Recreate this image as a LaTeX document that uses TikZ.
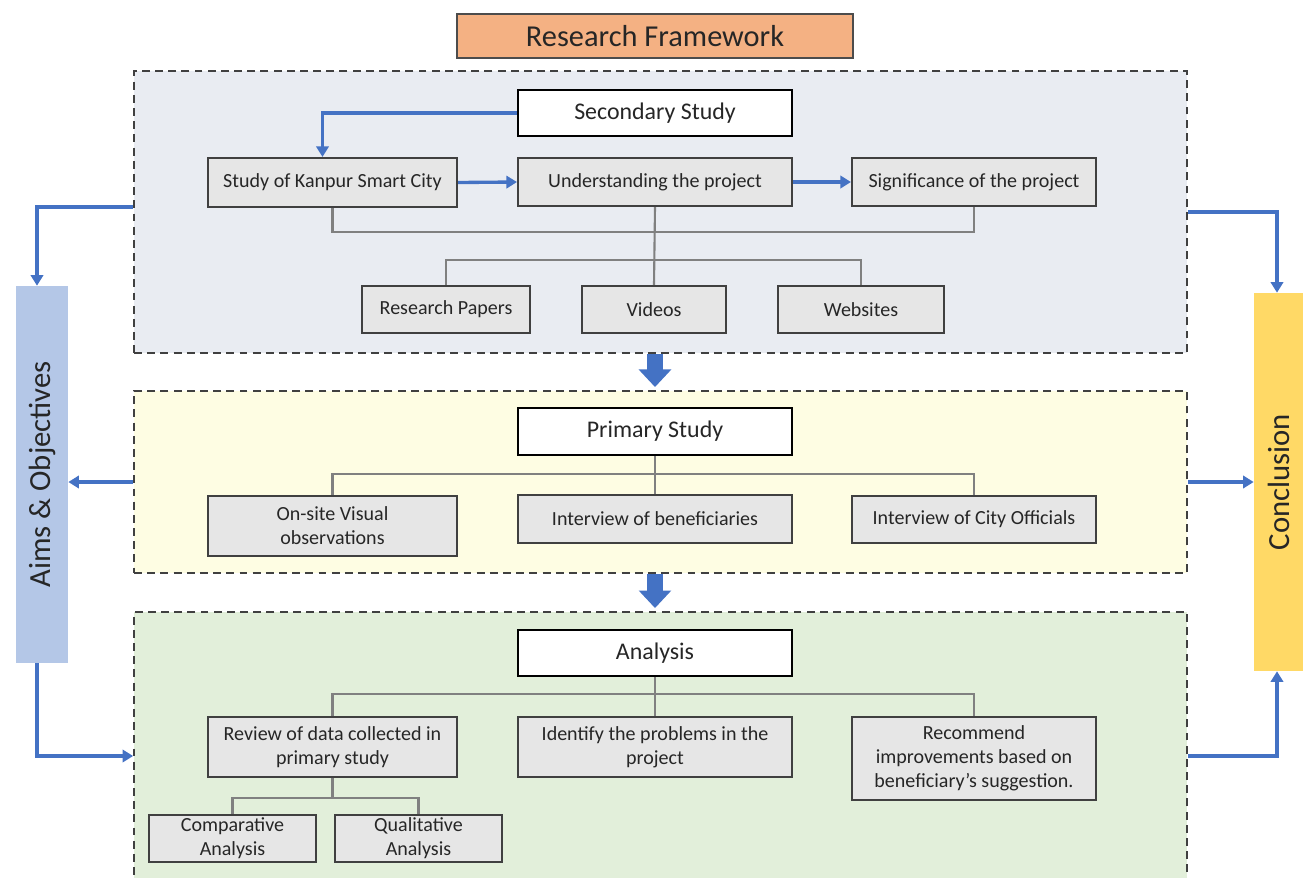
\documentclass[tikz,border=0pt]{standalone}
\usepackage{fontspec}
\setmainfont{Carlito}
\usetikzlibrary{arrows.meta}
\definecolor{bluel}{HTML}{4472C4}
\definecolor{secfill}{HTML}{E9ECF2}
\definecolor{prifill}{HTML}{FEFDE3}
\definecolor{anafill}{HTML}{E2EFDA}
\definecolor{boxfill}{HTML}{E6E6E6}
\definecolor{titlefill}{HTML}{F4B183}
\definecolor{aimsfill}{HTML}{B4C7E7}
\definecolor{concfill}{HTML}{FFD966}
\definecolor{txt}{HTML}{262626}
\begin{document}
\begin{tikzpicture}[x=0.02cm,y=-0.02cm,
  outer/.style={draw=black!75, line width=1.1pt, dash pattern=on 4.5pt off 3pt, inner sep=0pt},
  head/.style={draw=black, fill=white, line width=1.5pt, minimum width=5.48cm, minimum height=0.92cm, font=\fontsize{13.6}{16}\selectfont, text=txt, inner sep=0pt},
  item/.style={draw=black!75, fill=boxfill, line width=1.2pt, font=\fontsize{11.4}{13.6}\selectfont, text=txt, align=center, inner sep=0pt},
  gline/.style={draw=black!50, line width=1.2pt},
  bline/.style={draw=bluel, line width=1.9pt, -{Triangle[width=7pt,length=6pt]}},
  block/.style={draw=bluel, line width=9pt, -{Triangle[width=18pt,length=10pt]}},
  vtext/.style={rotate=90, font=\fontsize{17.5}{20}\selectfont, text=txt}
]
\useasboundingbox (0,0) rectangle (1303,877);

% title
\node[draw=black!70, fill=titlefill, line width=1.2pt, minimum width=7.92cm, minimum height=0.88cm, font=\fontsize{17.3}{20}\selectfont, text=txt, inner sep=0pt] (title) at (655,36) {Research Framework};

% outer boxes
\node[outer, fill=secfill, minimum width=21.06cm, minimum height=5.64cm] (sec) at (660.5,212) {};
\node[outer, fill=prifill, minimum width=21.06cm, minimum height=3.64cm] (pri) at (660.5,482) {};
\node[outer, fill=anafill, minimum width=21.06cm, minimum height=5.76cm] (ana) at (660.5,756) {};

% side boxes
\node[fill=aimsfill, minimum width=1.04cm, minimum height=7.54cm, inner sep=0pt] (aims) at (42,474.5) {};
\node[vtext] (aimst) at (aims.center) {Aims \& Objectives};
\node[fill=concfill, minimum width=1.0cm, minimum height=7.56cm, inner sep=0pt] (conc) at (1279,482) {};
\node[vtext] (conct) at (conc.center) {Conclusion};

% secondary study
\node[head] (secS) at (655,113) {Secondary Study};
\node[item, minimum width=4.98cm, minimum height=0.98cm] (kan) at (332.5,182.5) {Study of Kanpur Smart City};
\node[item, minimum width=5.48cm, minimum height=0.96cm] (und) at (655,182) {Understanding the project};
\node[item, minimum width=4.88cm, minimum height=0.96cm] (sig) at (974,182) {Significance of the project};
\node[item, minimum width=3.36cm, minimum height=0.94cm] (rp) at (446,309.5) {Research Papers};
\node[item, minimum width=2.88cm, minimum height=0.94cm] (vid) at (654,309.5) {Videos};
\node[item, minimum width=3.32cm, minimum height=0.94cm] (web) at (861,309.5) {Websites};

% primary study
\node[head, minimum height=0.94cm] (priS) at (655,431.5) {Primary Study};
\node[item, minimum width=4.98cm, minimum height=1.2cm] (ons) at (332.5,526) {On-site Visual\\observations};
\node[item, minimum width=5.48cm, minimum height=0.96cm] (intb) at (655,519) {Interview of beneficiaries};
\node[item, minimum width=4.88cm, minimum height=0.94cm] (intc) at (974,519.5) {Interview of City Officials};

% analysis
\node[head] (anaS) at (655,653) {Analysis};
\node[item, minimum width=4.98cm, minimum height=1.2cm] (rev) at (332.5,747) {Review of data collected in\\primary study};
\node[item, minimum width=5.48cm, minimum height=1.2cm] (ide) at (655,747) {Identify the problems in the\\project};
\node[item, minimum width=4.88cm, minimum height=1.66cm] (rec) at (974,758.5) {Recommend\\improvements based on\\beneficiary's suggestion.};
\node[item, minimum width=3.34cm, minimum height=0.94cm] (cmp) at (232.5,838.5) {Comparative\\Analysis};
\node[item, minimum width=3.34cm, minimum height=0.94cm] (qua) at (418.5,838.5) {Qualitative\\Analysis};

% gray connectors
\coordinate (j1) at (655,232);
\coordinate (j2) at (655,260);
\coordinate (j3) at (655,474);
\coordinate (j4) at (655,694);
\coordinate (j5) at (332.5,798);
\draw[gline] (kan.south) |- (j1) -| (sig.south);
\draw[gline] (und.south) -- (vid.north);
\draw[gline] (rp.north) |- (j2) -| (web.north);
\draw[gline] (priS.south) -- (intb.north);
\draw[gline] (ons.north) |- (j3) -| (intc.north);
\draw[gline] (anaS.south) -- (ide.north);
\draw[gline] (rev.north) |- (j4) -| (rec.north);
\draw[gline] (rev.south) -- (j5);
\draw[gline] (cmp.north) |- (j5) -| (qua.north);

% blue connectors
\draw[bline] (secS.west) -| ([xshift=-0.2cm]kan.north);
\draw[bline] (kan.east) -- (und.west);
\draw[bline] (und.east) -- (sig.west);
\draw[bline] ([yshift=0.1cm]sec.west) -| ([xshift=-0.1cm]aims.north);
\draw[bline] (pri.west) -- (aims.east |- pri.west);
\draw[bline] (sec.east) -| ([xshift=-0.04cm]conc.north);
\draw[bline] (pri.east) -- (conc.west |- pri.east);
\draw[bline] ([xshift=-0.1cm]aims.south) |- (ana.west);
\draw[bline] (ana.east) -| ([xshift=-0.04cm]conc.south);

% block arrows
\draw[block] ([xshift=-0.11cm]sec.south) -- ([xshift=-0.11cm,yshift=0.06cm]pri.north);
\draw[block] ([xshift=-0.11cm]pri.south) -- ([xshift=-0.11cm,yshift=0.06cm]ana.north);
\end{tikzpicture}
\end{document}
